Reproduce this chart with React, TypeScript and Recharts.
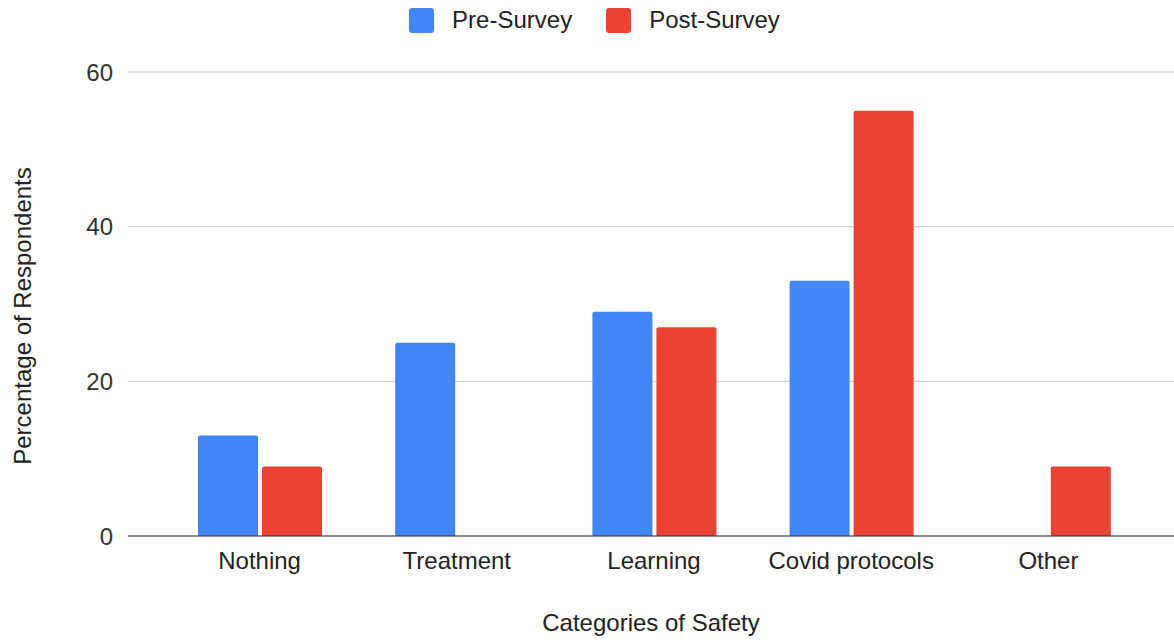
import {
  Bar,
  BarChart,
  CartesianGrid,
  Legend,
  XAxis,
  YAxis,
} from 'recharts';

const categories = ['Nothing', 'Treatment', 'Learning', 'Covid protocols', 'Other'];
const preSurvey = [13, 25, 29, 33, 0];
const postSurvey = [9, 0, 27, 55, 9];
const yTicks = [0, 20, 40, 60];
const seriesOrder = ['Pre-Survey', 'Post-Survey'];

const data = categories.map((name, i) => ({
  name,
  pre: preSurvey[i],
  post: postSurvey[i],
}));

const FONT = 'Arial, "Liberation Sans", sans-serif';

const renderLegend = (props: any) => {
  const payload = [...(props.payload || [])].sort(
    (a: any, b: any) => seriesOrder.indexOf(a.value) - seriesOrder.indexOf(b.value)
  );
  return (
    <div
      style={{
        height: 68,
        display: 'flex',
        justifyContent: 'center',
        paddingLeft: 15,
        fontFamily: FONT,
        fontSize: 24,
        color: '#222',
      }}
    >
      {payload.map((entry: any, i: number) => (
        <div
          key={entry.value}
          style={{
            display: 'flex',
            alignItems: 'center',
            height: 32,
            marginRight: i === payload.length - 1 ? 0 : 34,
          }}
        >
          <div
            style={{
              width: 25,
              height: 25,
              borderRadius: 3,
              background: entry.color,
              marginRight: 18,
            }}
          />
          <span>{entry.value}</span>
        </div>
      ))}
    </div>
  );
};

export default function App() {
  return (
    <div style={{ position: 'absolute', left: 0, top: 0, width: 1174, height: 640 }}>
      <BarChart
        width={1174}
        height={640}
        data={data}
        margin={{ top: 4, right: 0, left: 0, bottom: 0 }}
        barSize={60}
        barGap={4}
      >
        <CartesianGrid vertical={false} stroke="#cccccc" />
        <XAxis
          dataKey="name"
          height={104}
          padding={{ left: 33, right: 27 }}
          tickLine={false}
          tickSize={0}
          tickMargin={16}
          stroke="#333333"
          tick={{ fill: '#222', fontSize: 24, fontFamily: FONT }}
          label={{
            value: 'Categories of Safety',
            position: 'insideBottom',
            offset: 9,
            style: { fill: '#222', fontSize: 24, fontFamily: FONT },
          }}
        />
        <YAxis
          width={128}
          domain={[0, 60]}
          ticks={yTicks}
          axisLine={false}
          tickLine={false}
          tickSize={0}
          tickMargin={15}
          tick={{ fill: '#333', fontSize: 24, fontFamily: FONT }}
          label={{
            value: 'Percentage of Respondents',
            angle: -90,
            position: 'insideLeft',
            offset: 22,
            dy: 12,
            style: { textAnchor: 'middle', fill: '#222', fontSize: 24, fontFamily: FONT },
          }}
        />
        <Legend verticalAlign="top" content={renderLegend} />
        <Bar
          dataKey="pre"
          name="Pre-Survey"
          fill="#4285F4"
          radius={[2, 2, 0, 0]}
          isAnimationActive={false}
        />
        <Bar
          dataKey="post"
          name="Post-Survey"
          fill="#EA4335"
          radius={[2, 2, 0, 0]}
          isAnimationActive={false}
        />
      </BarChart>
    </div>
  );
}
